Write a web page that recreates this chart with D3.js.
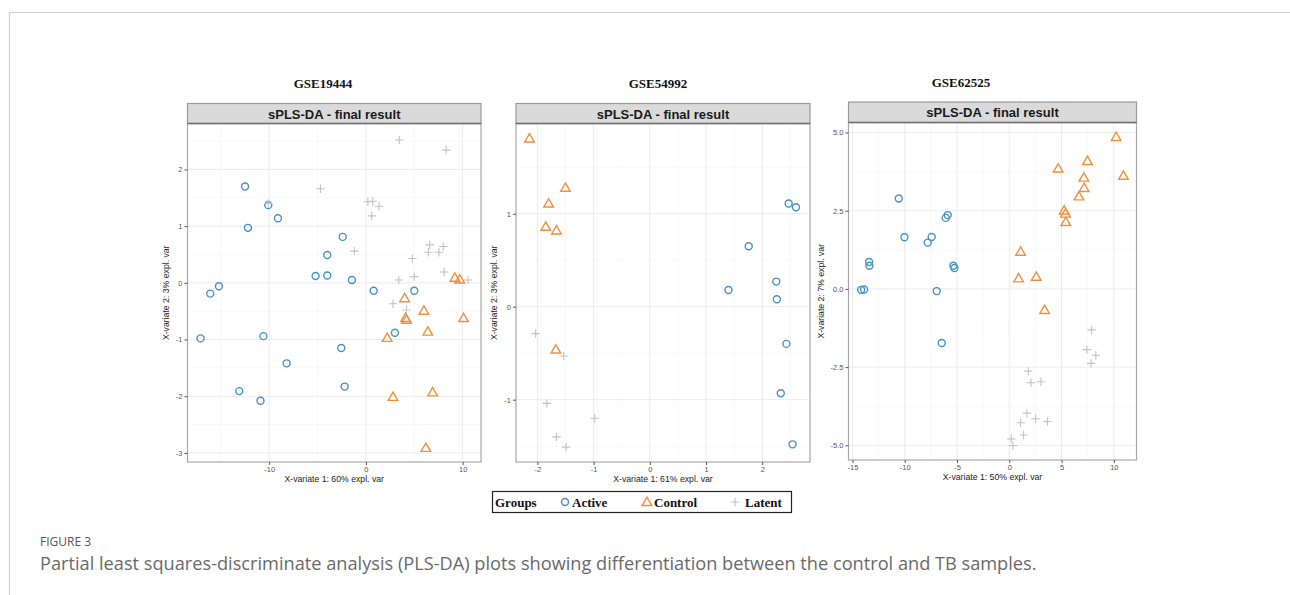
<!DOCTYPE html>
<html>
<head>
<meta charset="utf-8">
<script src="https://cdn.jsdelivr.net/npm/d3@7/dist/d3.min.js"></script>
<style>
  body { margin: 0; background: #fff; }
  svg { display: block; }
</style>
</head>
<body>
<svg id="fig" width="1290" height="595"></svg>
<script>
// group names + mixOmics colours
const groups = ["Active", "Control", "Latent"];
const groupColors = ["#4791c6", "#f08f3c", "#c2c2c2"];

// GSE19444
const gse19444Active = [[-12.5,1.70],[-10.1,1.37],[-9.1,1.14],[-12.2,0.97],[-2.4,0.81],[-4.0,0.49],[-5.2,0.12],[-4.0,0.13],[-1.45,0.05],[-15.2,-0.06],[-16.1,-0.19],[0.8,-0.14],[5.0,-0.14],[3.0,-0.88],[-17.1,-0.98],[-10.6,-0.94],[-2.55,-1.15],[-8.2,-1.42],[-13.1,-1.91],[-2.2,-1.83],[-10.9,-2.08]];
const gse19444Control = [[9.2,0.09],[9.7,0.06],[10.1,-0.62],[4.0,-0.27],[6.0,-0.49],[4.1,-0.62],[4.2,-0.65],[6.4,-0.86],[2.2,-0.97],[2.8,-2.01],[6.9,-1.93],[6.2,-2.91]];
const gse19444Latent = [[3.45,2.52],[8.3,2.34],[-4.7,1.66],[-10.1,1.40],[0.2,1.43],[0.7,1.44],[1.35,1.35],[0.6,1.18],[-1.2,0.56],[6.6,0.67],[6.45,0.54],[7.55,0.54],[8.0,0.64],[4.8,0.43],[5.0,0.11],[3.4,0.05],[8.1,0.19],[10.55,0.05],[2.8,-0.37],[4.2,-0.48]];

// GSE54992
const gse54992Active = [[2.47,1.11],[2.60,1.07],[1.76,0.65],[1.40,0.18],[2.25,0.27],[2.26,0.08],[2.43,-0.40],[2.33,-0.93],[2.54,-1.48]];
const gse54992Control = [[-2.14,1.81],[-1.50,1.28],[-1.80,1.11],[-1.85,0.86],[-1.66,0.82],[-1.67,-0.46]];
const gse54992Latent = [[-2.03,-0.29],[-1.53,-0.53],[-1.83,-1.04],[-0.98,-1.20],[-1.66,-1.40],[-1.49,-1.51]];

// GSE62525
const gse62525Active = [[-10.57,2.89],[-10.03,1.65],[-7.8,1.48],[-7.42,1.66],[-6.08,2.27],[-5.89,2.36],[-13.41,0.86],[-13.38,0.74],[-14.17,-0.03],[-13.89,-0.02],[-5.35,0.74],[-5.25,0.67],[-6.94,-0.07],[-6.46,-1.73]];
const gse62525Control = [[10.22,4.86],[7.48,4.09],[10.92,3.62],[4.68,3.85],[7.13,3.56],[7.17,3.23],[6.66,2.96],[5.25,2.51],[5.38,2.41],[5.41,2.14],[1.08,1.19],[0.89,0.34],[2.58,0.39],[3.38,-0.67]];
const gse62525Latent = [[7.87,-1.31],[7.42,-1.94],[8.28,-2.12],[7.83,-2.38],[1.82,-2.63],[2.07,-3.0],[3.03,-2.97],[1.69,-3.97],[2.52,-4.15],[1.08,-4.28],[3.66,-4.24],[1.37,-4.67],[0.19,-4.80],[0.35,-5.01]];

const titles = ["GSE19444", "GSE54992", "GSE62525"];
const xLabels = ["X-variate 1: 60% expl. var", "X-variate 1: 61% expl. var", "X-variate 1: 50% expl. var"];
const yLabels = ["X-variate 2: 3% expl. var", "X-variate 2: 3% expl. var", "X-variate 2: 7% expl. var"];
const xTicks = [[-10, 0, 10], [-2, -1, 0, 1, 2], [-15, -10, -5, 0, 5, 10]];
const yTicks = [[-3, -2, -1, 0, 1, 2], [-1, 0, 1], [-5, -2.5, 0, 2.5, 5]];
const xDomains = [[-18.45, 11.9], [-2.38, 2.85], [-15.38, 12.17]];
const yDomains = [[-3.16, 2.81], [-1.67, 1.97], [-5.47, 5.32]];

const panelData = [
  [gse19444Active, gse19444Control, gse19444Latent],
  [gse54992Active, gse54992Control, gse54992Latent],
  [gse62525Active, gse62525Control, gse62525Latent]
];

// pixel boxes of the plotting panels
const boxes = [
  { x0: 187.5, x1: 481, top: 103.5, y0: 123.5, y1: 462 },
  { x0: 516, x1: 810, top: 103.5, y0: 123.5, y1: 462 },
  { x0: 848.5, x1: 1136.5, top: 102, y0: 122.5, y1: 460 }
];
const titleX = [323, 658, 961];
const titleY = [88, 88, 87];
const yLabOff = [19, 19, 25];

const svg = d3.select("#fig");

// page frame
svg.append("path").attr("d", "M9.5,595V12.5H1290").attr("fill", "none").attr("stroke", "#cfcfcf").attr("stroke-width", 1.2);

const crossPath = "M-4.2,0H4.2M0,-4.2V4.2";
const triPath = d3.symbol().type(d3.symbolTriangle).size(40)();

const drawMark = (g, k, color) => {
  if (k === 0) {
    g.append("circle").attr("r", 3.5).attr("fill", "none").attr("stroke", color).attr("stroke-width", 1.4);
  } else if (k === 1) {
    g.append("path").attr("d", triPath).attr("transform", "translate(0,0.8)").attr("fill", "none").attr("stroke", color).attr("stroke-width", 1.4);
  } else {
    g.append("path").attr("d", crossPath).attr("fill", "none").attr("stroke", color).attr("stroke-width", 1.1);
  }
};

// ggplot style: plain hyphen for negatives
const hy = f => v => f(v).replace("\u2212", "-");

boxes.forEach((b, i) => {
  const x = d3.scaleLinear().domain(xDomains[i]).range([b.x0, b.x1]);
  const y = d3.scaleLinear().domain(yDomains[i]).range([b.y1, b.y0]);
  const g = svg.append("g");

  // dataset title
  g.append("text").attr("x", titleX[i]).attr("y", titleY[i]).attr("text-anchor", "middle")
    .attr("font-family", "Liberation Serif, serif").attr("font-weight", "bold").attr("font-size", 13)
    .attr("fill", "#111").text(titles[i]);

  // minor grid
  const xt = xTicks[i], yt = yTicks[i];
  const xStep = xt[1] - xt[0], yStep = yt[1] - yt[0];
  const xMinor = d3.range(xt[0] - xStep / 2, xDomains[i][1], xStep).filter(v => v > xDomains[i][0]);
  const yMinor = d3.range(yt[0] - yStep / 2, yDomains[i][1], yStep).filter(v => v > yDomains[i][0]);
  g.selectAll(".vminor").data(xMinor).join("line")
    .attr("x1", d => x(d)).attr("x2", d => x(d)).attr("y1", b.y0).attr("y2", b.y1)
    .attr("stroke", "#f3f3f3").attr("stroke-width", 0.6);
  g.selectAll(".hminor").data(yMinor).join("line")
    .attr("y1", d => y(d)).attr("y2", d => y(d)).attr("x1", b.x0).attr("x2", b.x1)
    .attr("stroke", "#f3f3f3").attr("stroke-width", 0.6);
  // major grid
  g.selectAll(".vmajor").data(xt).join("line")
    .attr("x1", d => x(d)).attr("x2", d => x(d)).attr("y1", b.y0).attr("y2", b.y1)
    .attr("stroke", "#ebebeb").attr("stroke-width", 1);
  g.selectAll(".hmajor").data(yt).join("line")
    .attr("y1", d => y(d)).attr("y2", d => y(d)).attr("x1", b.x0).attr("x2", b.x1)
    .attr("stroke", "#ebebeb").attr("stroke-width", 1);

  // points
  panelData[i].forEach((pts, k) => {
    pts.forEach(p => {
      const m = g.append("g").attr("transform", `translate(${x(p[0])},${y(p[1])})`);
      drawMark(m, k, groupColors[k]);
    });
  });

  // panel border
  g.append("rect").attr("x", b.x0).attr("y", b.y0).attr("width", b.x1 - b.x0).attr("height", b.y1 - b.y0)
    .attr("fill", "none").attr("stroke", "#a8a8a8").attr("stroke-width", 1.2);

  // strip
  g.append("rect").attr("x", b.x0).attr("y", b.top).attr("width", b.x1 - b.x0).attr("height", b.y0 - b.top)
    .attr("fill", "#dadada").attr("stroke", "#9a9a9a").attr("stroke-width", 1.2);
  g.append("line").attr("x1", b.x0).attr("x2", b.x1).attr("y1", b.y0).attr("y2", b.y0)
    .attr("stroke", "#6f6f6f").attr("stroke-width", 1.4);
  g.append("text").attr("x", (b.x0 + b.x1) / 2).attr("y", b.top + 15).attr("text-anchor", "middle")
    .attr("font-family", "Liberation Sans, Arial, sans-serif").attr("font-weight", "bold").attr("font-size", 13)
    .attr("fill", "#1a1a1a").text("sPLS-DA - final result");

  // axes
  const yFmt = i === 2 ? hy(d3.format(".1f")) : hy(d3.format("d"));
  const xAxis = g.append("g").attr("transform", `translate(0,${b.y1})`)
    .call(d3.axisBottom(x).tickValues(xt).tickSize(3).tickSizeOuter(0).tickPadding(2).tickFormat(hy(d3.format("d"))));
  const yAxis = g.append("g").attr("transform", `translate(${b.x0},0)`)
    .call(d3.axisLeft(y).tickValues(yt).tickSize(3).tickSizeOuter(0).tickPadding(2).tickFormat(yFmt));
  [xAxis, yAxis].forEach(a => {
    a.select(".domain").remove();
    a.selectAll("line").attr("stroke", "#555");
    a.selectAll("text").attr("font-family", "Liberation Sans, Arial, sans-serif").attr("font-size", 7.5).attr("fill", "#555");
  });

  // axis titles
  g.append("text").attr("x", (b.x0 + b.x1) / 2).attr("y", b.y1 + 20).attr("text-anchor", "middle")
    .attr("font-family", "Liberation Sans, Arial, sans-serif").attr("font-size", 8.7).attr("fill", "#222").text(xLabels[i]);
  g.append("text").attr("transform", `translate(${b.x0 - yLabOff[i]},${(b.y0 + b.y1) / 2}) rotate(-90)`).attr("text-anchor", "middle")
    .attr("font-family", "Liberation Sans, Arial, sans-serif").attr("font-size", 8.7).attr("fill", "#222").text(yLabels[i]);
});

// legend
const lg = svg.append("g");
lg.append("rect").attr("x", 492.5).attr("y", 491.5).attr("width", 299).attr("height", 21)
  .attr("fill", "#fff").attr("stroke", "#222").attr("stroke-width", 1.2);
lg.append("text").attr("x", 495).attr("y", 506.5).attr("font-family", "Liberation Serif, serif").attr("font-weight", "bold")
  .attr("font-size", 13).attr("fill", "#111").text("Groups");
const legX = [565, 647, 735];
groups.forEach((name, k) => {
  const m = lg.append("g").attr("transform", `translate(${legX[k]},${502})`);
  drawMark(m, k, groupColors[k]);
  lg.append("text").attr("x", legX[k] + (k === 2 ? 10 : 7)).attr("y", 506.5).attr("font-family", "Liberation Serif, serif")
    .attr("font-weight", "bold").attr("font-size", 13).attr("fill", "#111").text(name);
});

// caption
svg.append("text").attr("x", 40).attr("y", 546).attr("font-family", "Open Sans, sans-serif").attr("font-size", 12)
  .attr("fill", "#555").text("FIGURE 3");
svg.append("text").attr("x", 40).attr("y", 570).attr("font-family", "Open Sans, sans-serif").attr("font-size", 18.2)
  .attr("fill", "#6a6a6a").text("Partial least squares-discriminate analysis (PLS-DA) plots showing differentiation between the control and TB samples.");
</script>
</body>
</html>
